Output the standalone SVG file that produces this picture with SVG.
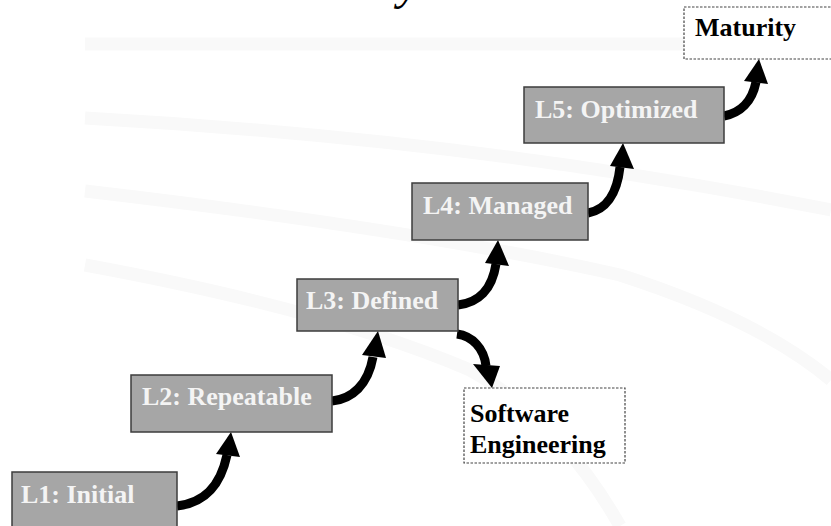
<svg xmlns="http://www.w3.org/2000/svg" width="831" height="526" viewBox="0 0 831 526">
<style>
.bg{fill:none;stroke:#f9f9f9;stroke-width:13;stroke-linecap:butt}
.box{fill:#a6a6a6;stroke:#3c3c3c;stroke-width:1.5}
.dbox{fill:#ffffff;stroke:#444;stroke-width:1.2;stroke-dasharray:2.5 1.5}
.lbl{font-family:"Liberation Serif","Times New Roman",serif;font-weight:bold;font-size:26px;fill:#f4f4f4}
.dlbl{font-family:"Liberation Serif","Times New Roman",serif;font-weight:bold;font-size:26px;fill:#000}
.shaft{fill:none;stroke:#000;stroke-width:9}
.head{fill:#000}
</style>
<rect width="831" height="526" fill="#ffffff"/>
<g id="background">
<path class="bg" d="M85,44 L831,44"/>
<path class="bg" d="M85,118 Q480,140 831,210"/>
<path class="bg" d="M85,191 Q420,230 620,275 Q760,320 831,380"/>
<path class="bg" d="M85,265 Q330,310 470,370 Q560,420 620,526"/>
</g>
<text x="398" y="-1" font-family="Liberation Serif, serif" font-style="italic" font-size="48" fill="#000">y</text>
<g id="connectors">
<path class="shaft" d="M177,506 C203,503 220,488 227,455"/>
<polygon class="head" points="231,432 216,454 240,457"/>
<path class="shaft" d="M332,401 C352,399 368,385 373,357"/>
<polygon class="head" points="378,331 362,355 386,358"/>
<path class="shaft" d="M458,305 C478,303 492,290 496,264"/>
<polygon class="head" points="498,240 485,263 509,266"/>
<path class="shaft" d="M588,213 C605,210 617,195 620,167"/>
<polygon class="head" points="623,143 610,166 634,169"/>
<path class="shaft" d="M724,116 C740,113 752,102 756,82"/>
<polygon class="head" points="759,59 744,81 768,84"/>
<path class="shaft" d="M457,334 C472,336 484,348 486,366"/>
<polygon class="head" points="492,388 473,364 500,366"/>
</g>
<g id="L1"><rect class="box" x="12" y="472" width="165" height="60"/><text class="lbl" x="21" y="503">L1: Initial</text></g>
<g id="L2"><rect class="box" x="131" y="375" width="201" height="57"/><text class="lbl" x="142" y="405">L2: Repeatable</text></g>
<g id="L3"><rect class="box" x="297" y="279" width="161" height="52"/><text class="lbl" x="306" y="309">L3: Defined</text></g>
<g id="L4"><rect class="box" x="412" y="183" width="176" height="57"/><text class="lbl" x="423" y="214">L4: Managed</text></g>
<g id="L5"><rect class="box" x="524" y="87" width="200" height="56"/><text class="lbl" x="535" y="118">L5: Optimized</text></g>
<g id="maturity"><rect class="dbox" x="684" y="7" width="160" height="52"/><text class="dlbl" x="695" y="36">Maturity</text></g>
<g id="software-engineering"><rect class="dbox" x="464" y="388" width="161" height="75"/><text class="dlbl" x="470" y="422">Software</text><text class="dlbl" x="470" y="453">Engineering</text></g>
</svg>
